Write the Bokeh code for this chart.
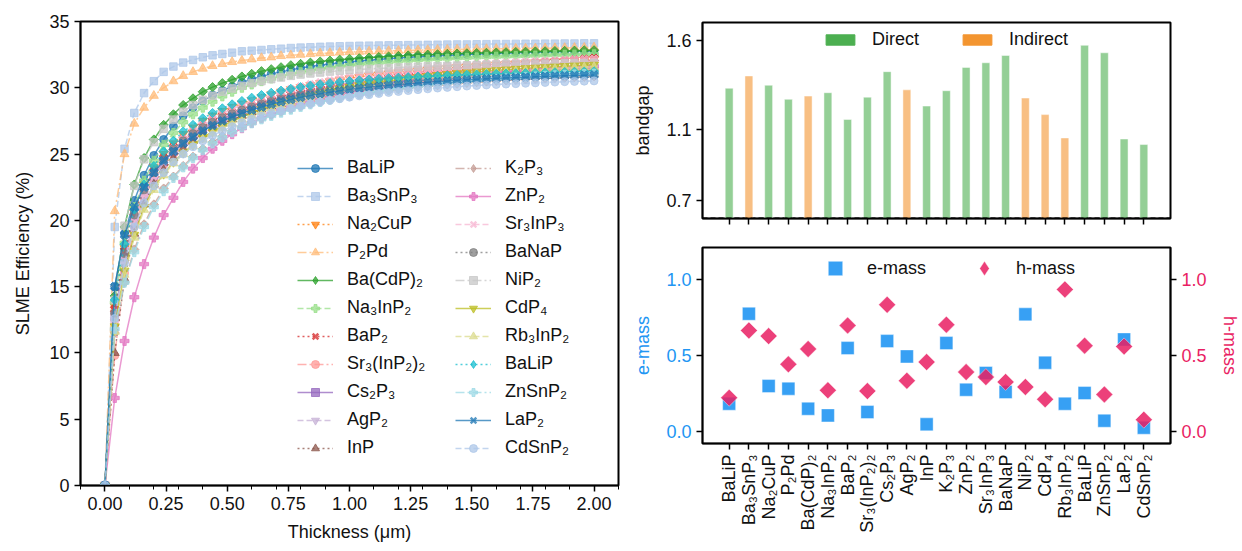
import math
from bokeh.plotting import figure
from bokeh.models import (Range1d, FixedTicker, Legend, LegendItem, LinearAxis,
                          Span, PrintfTickFormatter, ColumnDataSource)
from bokeh.layouts import row, column
from bokeh.embed import file_html
from bokeh.resources import INLINE

# ---------------- data ----------------
thickness = [0.0, 0.04, 0.08, 0.12, 0.16, 0.2, 0.24, 0.28, 0.32, 0.36, 0.4,
             0.44, 0.48, 0.52, 0.56, 0.6, 0.64, 0.68, 0.72, 0.76, 0.8, 0.84, 0.88, 0.92, 0.96, 1.0,
             1.04, 1.08, 1.12, 1.16, 1.2, 1.24, 1.28, 1.32, 1.36, 1.4, 1.44, 1.48, 1.52, 1.56, 1.6,
             1.64, 1.68, 1.72, 1.76, 1.8, 1.84, 1.88, 1.92, 1.96, 2.0]

materials = ["BaLiP", "Ba₃SnP₃", "Na₂CuP", "P₂Pd", "Ba(CdP)₂", "Na₃InP₂", "BaP₂",
             "Sr₃(InP₂)₂", "Cs₂P₃", "AgP₂", "InP", "K₂P₃", "ZnP₂", "Sr₃InP₃", "BaNaP",
             "NiP₂", "CdP₄", "Rb₃InP₂", "BaLiP", "ZnSnP₂", "LaP₂", "CdSnP₂"]

slme_BaLiP = [0, 15.0, 19.0, 21.5, 23.4, 24.9, 26.1, 27.1, 27.9, 28.5, 29.0,
              29.45, 29.8, 30.1, 30.4, 30.65, 30.85, 31.05, 31.2, 31.35, 31.5, 31.6, 31.7, 31.8, 31.88, 31.95,
              32.02, 32.08, 32.14, 32.2, 32.25, 32.3, 32.34, 32.38, 32.42, 32.45, 32.48, 32.51, 32.54, 32.57, 32.6,
              32.62, 32.64, 32.66, 32.68, 32.7, 32.72, 32.74, 32.75, 32.77, 32.78]
slme_Ba3SnP3 = [0, 19.5, 25.4, 28.1, 29.6, 30.5, 31.2, 31.6, 31.9, 32.1, 32.3,
                32.45, 32.55, 32.65, 32.75, 32.8, 32.85, 32.9, 32.95, 33.0, 33.03, 33.06, 33.09, 33.11, 33.13, 33.15,
                33.17, 33.18, 33.19, 33.2, 33.21, 33.22, 33.23, 33.24, 33.25, 33.26, 33.27, 33.27, 33.28, 33.29, 33.3,
                33.3, 33.31, 33.32, 33.32, 33.33, 33.33, 33.34, 33.34, 33.35, 33.35]
slme_Na2CuP = [0, 13.5, 17.9, 20.8, 22.7, 24.0, 25.0, 25.8, 26.5, 27.0, 27.5,
               27.9, 28.25, 28.55, 28.8, 29.05, 29.3, 29.5, 29.7, 29.88, 30.05, 30.2, 30.35, 30.48, 30.6, 30.72,
               30.82, 30.92, 31.0, 31.08, 31.16, 31.23, 31.3, 31.37, 31.43, 31.49, 31.55, 31.6, 31.65, 31.7, 31.75,
               31.8, 31.84, 31.88, 31.92, 31.96, 32.0, 32.04, 32.08, 32.11, 32.14]
slme_P2Pd = [0, 20.7, 25.0, 27.3, 28.5, 29.4, 30.0, 30.5, 30.9, 31.2, 31.45,
             31.65, 31.8, 31.95, 32.05, 32.15, 32.25, 32.3, 32.4, 32.45, 32.5, 32.55, 32.6, 32.63, 32.66, 32.7,
             32.72, 32.74, 32.76, 32.78, 32.8, 32.82, 32.84, 32.85, 32.87, 32.88, 32.9, 32.91, 32.92, 32.93, 32.94,
             32.95, 32.96, 32.97, 32.98, 32.99, 33.0, 33.01, 33.02, 33.03, 33.05]
slme_BaCdP2 = [0, 14.3, 19.5, 22.7, 24.7, 26.1, 27.2, 28.0, 28.7, 29.2, 29.7,
               30.05, 30.35, 30.6, 30.85, 31.05, 31.25, 31.4, 31.55, 31.7, 31.8, 31.9, 31.98, 32.05, 32.12, 32.18,
               32.23, 32.28, 32.32, 32.36, 32.4, 32.44, 32.47, 32.5, 32.53, 32.56, 32.58, 32.6, 32.62, 32.64, 32.66,
               32.68, 32.7, 32.72, 32.74, 32.75, 32.77, 32.78, 32.8, 32.82, 32.83]
slme_Na3InP2 = [0, 13.8, 18.3, 21.0, 23.0, 24.5, 25.7, 26.6, 27.4, 28.0, 28.5,
                28.95, 29.35, 29.7, 30.0, 30.25, 30.5, 30.7, 30.88, 31.04, 31.18, 31.3, 31.42, 31.52, 31.61, 31.7,
                31.77, 31.84, 31.9, 31.96, 32.01, 32.06, 32.1, 32.14, 32.18, 32.21, 32.24, 32.27, 32.3, 32.33, 32.35,
                32.37, 32.39, 32.41, 32.43, 32.45, 32.47, 32.49, 32.5, 32.52, 32.53]
slme_BaP2 = [0, 13.3, 17.7, 20.6, 22.5, 23.7, 24.7, 25.5, 26.1, 26.6, 27.1,
             27.5, 27.85, 28.15, 28.4, 28.65, 28.9, 29.1, 29.3, 29.5, 29.65, 29.8, 29.95, 30.1, 30.2, 30.35,
             30.45, 30.55, 30.65, 30.75, 30.85, 30.95, 31.05, 31.12, 31.2, 31.28, 31.35, 31.42, 31.5, 31.56, 31.62,
             31.68, 31.74, 31.8, 31.86, 31.92, 31.98, 32.04, 32.1, 32.16, 32.22]
slme_Sr3InP22 = [0, 9.8, 16.0, 19.5, 21.7, 23.1, 24.2, 25.0, 25.7, 26.3, 26.8,
                 27.25, 27.6, 27.95, 28.25, 28.5, 28.75, 28.97, 29.18, 29.37, 29.55, 29.72, 29.87, 30.02, 30.15, 30.28,
                 30.4, 30.51, 30.61, 30.71, 30.8, 30.89, 30.97, 31.05, 31.12, 31.19, 31.26, 31.32, 31.38, 31.44, 31.5,
                 31.55, 31.6, 31.65, 31.7, 31.74, 31.78, 31.82, 31.86, 31.9, 31.94]
slme_Cs2P3 = [0, 12.8, 17.2, 20.1, 22.0, 23.4, 24.4, 25.2, 25.9, 26.4, 26.9,
              27.3, 27.65, 27.95, 28.22, 28.46, 28.68, 28.88, 29.07, 29.24, 29.4, 29.55, 29.69, 29.82, 29.94, 30.05,
              30.15, 30.25, 30.34, 30.42, 30.5, 30.57, 30.64, 30.71, 30.77, 30.83, 30.89, 30.94, 30.99, 31.04, 31.09,
              31.13, 31.17, 31.21, 31.25, 31.29, 31.33, 31.36, 31.39, 31.42, 31.45]
slme_AgP2 = [0, 12.3, 16.8, 19.8, 21.8, 23.2, 24.3, 25.1, 25.8, 26.3, 26.8,
             27.2, 27.55, 27.85, 28.12, 28.36, 28.58, 28.78, 28.97, 29.14, 29.3, 29.45, 29.59, 29.72, 29.84, 29.95,
             30.05, 30.15, 30.24, 30.32, 30.4, 30.47, 30.54, 30.61, 30.67, 30.73, 30.79, 30.84, 30.89, 30.94, 30.99,
             31.03, 31.07, 31.11, 31.15, 31.19, 31.23, 31.26, 31.29, 31.32, 31.35]
slme_InP = [0, 10.0, 15.6, 19.0, 21.2, 22.7, 23.8, 24.7, 25.4, 26.0, 26.5,
            26.95, 27.3, 27.62, 27.9, 28.15, 28.38, 28.59, 28.78, 28.96, 29.12, 29.27, 29.41, 29.54, 29.66, 29.77,
            29.87, 29.97, 30.06, 30.14, 30.22, 30.29, 30.36, 30.43, 30.49, 30.55, 30.61, 30.66, 30.71, 30.76, 30.81,
            30.85, 30.89, 30.93, 30.97, 31.01, 31.04, 31.07, 31.1, 31.13, 31.16]
slme_K2P3 = [0, 11.5, 15.3, 17.8, 19.7, 21.2, 22.4, 23.3, 24.1, 24.8, 25.4,
             25.9, 26.35, 26.75, 27.1, 27.4, 27.7, 27.95, 28.18, 28.4, 28.6, 28.78, 28.95, 29.1, 29.24, 29.37,
             29.49, 29.6, 29.7, 29.8, 29.89, 29.97, 30.05, 30.12, 30.19, 30.25, 30.31, 30.37, 30.42, 30.47, 30.52,
             30.56, 30.6, 30.64, 30.68, 30.71, 30.74, 30.77, 30.8, 30.83, 30.86]
slme_ZnP2 = [0, 6.6, 10.9, 14.2, 16.7, 18.7, 20.4, 21.7, 22.9, 23.9, 24.7,
             25.4, 26.0, 26.5, 26.95, 27.35, 27.7, 28.0, 28.3, 28.55, 28.8, 29.0, 29.2, 29.38, 29.55, 29.7,
             29.84, 29.97, 30.09, 30.2, 30.31, 30.41, 30.5, 30.59, 30.68, 30.76, 30.84, 30.91, 30.98, 31.05, 31.11,
             31.17, 31.23, 31.29, 31.34, 31.39, 31.44, 31.49, 31.54, 31.58, 31.62]
slme_Sr3InP3 = [0, 12.5, 17.0, 20.0, 22.0, 23.4, 24.5, 25.4, 26.1, 26.7, 27.2,
                27.65, 28.05, 28.4, 28.7, 28.98, 29.24, 29.47, 29.68, 29.88, 30.06, 30.23, 30.38, 30.52, 30.65, 30.77,
                30.88, 30.98, 31.07, 31.16, 31.24, 31.32, 31.39, 31.46, 31.52, 31.58, 31.63, 31.68, 31.73, 31.78, 31.82,
                31.86, 31.9, 31.94, 31.97, 32.0, 32.03, 32.06, 32.09, 32.12, 32.15]
slme_BaNaP = [0, 13.0, 17.5, 20.4, 22.3, 23.6, 24.6, 25.4, 26.0, 26.55, 27.0,
              27.4, 27.75, 28.05, 28.32, 28.56, 28.78, 28.98, 29.16, 29.33, 29.48, 29.62, 29.75, 29.87, 29.98, 30.08,
              30.18, 30.27, 30.35, 30.43, 30.5, 30.57, 30.63, 30.69, 30.75, 30.8, 30.85, 30.9, 30.95, 30.99, 31.03,
              31.07, 31.11, 31.14, 31.17, 31.2, 31.23, 31.26, 31.29, 31.31, 31.33]
slme_NiP2 = [0, 14.0, 19.6, 22.6, 24.6, 25.9, 26.9, 27.6, 28.2, 28.7, 29.1,
             29.4, 29.7, 29.95, 30.15, 30.35, 30.5, 30.65, 30.78, 30.9, 31.0, 31.08, 31.15, 31.22, 31.28, 31.33,
             31.38, 31.42, 31.46, 31.5, 31.53, 31.56, 31.59, 31.62, 31.64, 31.66, 31.68, 31.7, 31.72, 31.74, 31.75,
             31.77, 31.78, 31.8, 31.81, 31.82, 31.84, 31.85, 31.86, 31.87, 31.88]
slme_CdP4 = [0, 12.0, 16.2, 18.9, 21.0, 22.5, 23.5, 24.4, 25.1, 25.7, 26.25,
             26.7, 27.1, 27.47, 27.8, 28.1, 28.37, 28.62, 28.85, 29.06, 29.26, 29.44, 29.61, 29.77, 29.92, 30.05,
             30.18, 30.3, 30.41, 30.51, 30.61, 30.7, 30.79, 30.87, 30.95, 31.02, 31.09, 31.15, 31.21, 31.27, 31.32,
             31.37, 31.42, 31.47, 31.51, 31.55, 31.59, 31.63, 31.67, 31.7, 31.73]
slme_Rb3InP2 = [0, 11.6, 15.9, 18.7, 20.8, 22.3, 23.4, 24.3, 25.0, 25.6, 26.1,
                26.55, 26.95, 27.3, 27.62, 27.92, 28.19, 28.44, 28.67, 28.88, 29.08, 29.26, 29.43, 29.59, 29.74, 29.88,
                30.01, 30.13, 30.24, 30.35, 30.45, 30.54, 30.63, 30.71, 30.79, 30.86, 30.93, 30.99, 31.05, 31.11, 31.16,
                31.21, 31.26, 31.31, 31.35, 31.39, 31.43, 31.47, 31.51, 31.54, 31.57]
slme_BaLiP_b = [0, 14.0, 18.2, 20.8, 22.7, 24.1, 25.2, 26.0, 26.7, 27.2, 27.7,
                28.1, 28.45, 28.75, 29.0, 29.25, 29.45, 29.62, 29.78, 29.92, 30.05, 30.16, 30.26, 30.35, 30.43, 30.5,
                30.56, 30.62, 30.67, 30.72, 30.76, 30.8, 30.84, 30.87, 30.9, 30.93, 30.96, 30.98, 31.0, 31.03, 31.05,
                31.07, 31.09, 31.11, 31.13, 31.15, 31.17, 31.19, 31.21, 31.22, 31.24]
slme_ZnSnP2 = [0, 11.8, 15.3, 17.6, 19.5, 21.0, 22.2, 23.2, 24.0, 24.7, 25.3,
               25.8, 26.25, 26.65, 27.0, 27.32, 27.62, 27.88, 28.12, 28.35, 28.56, 28.75, 28.93, 29.1, 29.25, 29.39,
               29.52, 29.64, 29.75, 29.86, 29.96, 30.05, 30.14, 30.22, 30.3, 30.37, 30.44, 30.5, 30.56, 30.62, 30.67,
               30.72, 30.77, 30.82, 30.86, 30.9, 30.94, 30.98, 31.01, 31.04, 31.07]
slme_LaP2 = [0, 15.0, 18.9, 21.0, 22.5, 23.6, 24.5, 25.2, 25.8, 26.3, 26.75,
             27.15, 27.5, 27.8, 28.07, 28.32, 28.55, 28.76, 28.95, 29.12, 29.28, 29.42, 29.55, 29.67, 29.78, 29.88,
             29.97, 30.05, 30.12, 30.19, 30.25, 30.31, 30.37, 30.42, 30.47, 30.52, 30.56, 30.6, 30.64, 30.68, 30.71,
             30.74, 30.77, 30.8, 30.83, 30.86, 30.88, 30.9, 30.92, 30.94, 30.96]
slme_CdSnP2 = [0, 12.6, 16.8, 19.5, 21.3, 22.6, 23.6, 24.4, 25.0, 25.55, 26.0,
               26.4, 26.75, 27.07, 27.36, 27.62, 27.86, 28.08, 28.28, 28.46, 28.63, 28.79, 28.93, 29.06, 29.18, 29.29,
               29.39, 29.48, 29.57, 29.65, 29.72, 29.79, 29.86, 29.92, 29.98, 30.03, 30.08, 30.13, 30.17, 30.21, 30.25,
               30.28, 30.31, 30.34, 30.37, 30.4, 30.43, 30.46, 30.48, 30.5, 30.52]

slme_series = [slme_BaLiP, slme_Ba3SnP3, slme_Na2CuP, slme_P2Pd, slme_BaCdP2, slme_Na3InP2,
               slme_BaP2, slme_Sr3InP22, slme_Cs2P3, slme_AgP2, slme_InP, slme_K2P3, slme_ZnP2,
               slme_Sr3InP3, slme_BaNaP, slme_NiP2, slme_CdP4, slme_Rb3InP2, slme_BaLiP_b,
               slme_ZnSnP2, slme_LaP2, slme_CdSnP2]
for k, s in enumerate(slme_series):
    if len(s) != len(thickness):
        raise ValueError("series %d has %d values" % (k, len(s)))

bandgap = [1.331, 1.400, 1.348, 1.269, 1.287, 1.306, 1.156, 1.281, 1.424, 1.322, 1.231,
           1.317, 1.448, 1.474, 1.515, 1.276, 1.183, 1.052, 1.572, 1.530, 1.046, 1.015]
gap_type = ["Direct", "Indirect", "Direct", "Direct", "Indirect", "Direct", "Direct", "Direct",
            "Direct", "Indirect", "Direct", "Direct", "Direct", "Direct", "Direct", "Indirect",
            "Indirect", "Indirect", "Direct", "Direct", "Direct", "Direct"]
emass = [0.182, 0.774, 0.298, 0.281, 0.149, 0.105, 0.548, 0.127, 0.594, 0.493, 0.046,
         0.581, 0.274, 0.384, 0.259, 0.770, 0.452, 0.182, 0.252, 0.070, 0.605, 0.024]
hmass = [0.221, 0.664, 0.627, 0.441, 0.542, 0.270, 0.697, 0.265, 0.833, 0.333, 0.456,
         0.702, 0.390, 0.357, 0.325, 0.292, 0.211, 0.934, 0.564, 0.243, 0.559, 0.077]

# ---------------- styling ----------------
FONT = "Liberation Sans"
FS = "18px"
TXT = "#111111"
nan = float("nan")
palette = ["#1f77b4", "#aec7e8", "#ff7f0e", "#ffbb78", "#2ca02c", "#98df8a", "#d62728",
           "#ff9896", "#9467bd", "#c5b0d5", "#8c564b", "#c49c94", "#e377c2", "#f7b6d2",
           "#7f7f7f", "#c7c7c7", "#bcbd22", "#dbdb8d", "#17becf", "#9edae5"]
# (marker, angle, size, legend-key marker or None)
markers = [("circle", 0.0, 8, None), ("square", 0.0, 7.5, None),
           ("inverted_triangle", 0.0, 9, None), ("triangle", 0.0, 9, None),
           ("square", math.pi / 4, 6.5, "diamond"), ("plus", 0.0, 9, None),
           ("plus", math.pi / 4, 9, "x")]
dashes = ["solid", "6 3", "2 3", "9 3 2 3"]


def style_axis(ax):
    ax.axis_line_width = 1.5
    ax.axis_line_color = "black"
    ax.major_tick_line_width = 1.5
    ax.major_tick_out = 6
    ax.major_tick_in = 0
    ax.minor_tick_line_width = 1
    ax.minor_tick_out = 4
    ax.minor_tick_in = 0
    ax.major_label_text_font = FONT
    ax.major_label_text_font_size = FS
    ax.major_label_text_color = TXT
    ax.axis_label_text_font = FONT
    ax.axis_label_text_font_size = FS
    ax.axis_label_text_font_style = "normal"
    ax.axis_label_text_color = TXT
    ax.major_label_standoff = 5


def style_fig(p):
    p.grid.visible = False
    p.outline_line_color = "black"
    p.outline_line_width = 2
    p.outline_line_alpha = 1
    p.background_fill_color = "white"
    p.border_fill_color = "white"


def style_legend(lg, gh, spacing):
    lg.label_text_font = FONT
    lg.label_text_font_size = FS
    lg.label_text_color = TXT
    lg.glyph_width = 36
    lg.glyph_height = gh
    lg.label_height = 20
    lg.label_standoff = 14
    lg.spacing = spacing
    lg.padding = 0
    lg.margin = 0
    lg.border_line_alpha = 0
    lg.background_fill_alpha = 0


# ---------------- left: SLME ----------------
p1 = figure(width=630, height=551, x_range=Range1d(-0.1, 2.1), y_range=Range1d(0, 35),
            output_backend="svg", toolbar_location=None,
            min_border_left=80, min_border_right=12, min_border_top=21, min_border_bottom=66)
style_fig(p1)
for ax in (p1.xaxis[0], p1.yaxis[0]):
    style_axis(ax)
p1.xaxis.ticker = FixedTicker(ticks=[0, 0.25, 0.5, 0.75, 1.0, 1.25, 1.5, 1.75, 2.0],
                              minor_ticks=[-0.1, 0.0, 0.1, 0.2, 0.3, 0.4, 0.5, 0.6, 0.7, 0.8, 0.9, 1.0,
                                           1.1, 1.2, 1.3, 1.4, 1.5, 1.6, 1.7, 1.8, 1.9, 2.0, 2.1])
p1.xaxis.formatter = PrintfTickFormatter(format="%.2f")
p1.yaxis.ticker = FixedTicker(ticks=[0, 5, 10, 15, 20, 25, 30, 35])
p1.xaxis.axis_label = "Thickness (μm)"
p1.yaxis.axis_label = "SLME Efficiency (%)"
p1.xaxis.axis_label_standoff = 9
p1.yaxis.axis_label_standoff = 13

items = []
for k, (name, vals) in enumerate(zip(materials, slme_series)):
    col = palette[k % len(palette)]
    mk, ang, sz, key_mk = markers[k % len(markers)]
    dash = dashes[k % len(dashes)]
    lr = p1.line(thickness, vals, line_color=col, line_width=1.5, line_alpha=0.75, line_dash=dash)
    sr = p1.scatter(thickness, vals, marker=mk, angle=ang, size=sz, fill_color=col,
                    fill_alpha=0.75, line_color=col, line_alpha=0.75, line_width=1)
    if key_mk is None:
        key = sr
    else:
        # legend keys ignore marker angle: use an unrotated look-alike for the key only
        key = p1.scatter([nan], [nan], marker=key_mk, size=sz, fill_color=col, fill_alpha=0.75,
                         line_color=col, line_alpha=0.75,
                         line_width=(2.5 if key_mk == "x" else 1))
    items.append(LegendItem(label=name, renderers=[lr, key]))

leg_a = Legend(items=items[:11], location=(217, 27), orientation="vertical")
style_legend(leg_a, 20, 7)
leg_b = Legend(items=items[11:], location=(375, 27), orientation="vertical")
style_legend(leg_b, 20, 7)
p1.add_layout(leg_a)
p1.add_layout(leg_b)

# ---------------- top right: bandgap ----------------
idx = list(range(len(materials)))
xr = Range1d(-1.35, 22.35)
p2 = figure(width=612, height=232, x_range=xr, y_range=Range1d(0.6, 1.7),
            output_backend="svg", toolbar_location=None,
            min_border_left=67, min_border_right=72, min_border_top=22, min_border_bottom=14)
style_fig(p2)
for ax in (p2.xaxis[0], p2.yaxis[0]):
    style_axis(ax)
GREEN = "#4CAF50"
ORANGE = "#F39530"
d_src = ColumnDataSource(dict(x=[i for i in idx if gap_type[i] == "Direct"],
                              top=[bandgap[i] for i in idx if gap_type[i] == "Direct"]))
i_src = ColumnDataSource(dict(x=[i for i in idx if gap_type[i] == "Indirect"],
                              top=[bandgap[i] for i in idx if gap_type[i] == "Indirect"]))
p2.vbar(x="x", top="top", bottom=0.6, width=0.4, source=d_src, fill_color=GREEN,
        fill_alpha=0.6, line_color="white", line_alpha=0.6, line_width=0.8)
p2.vbar(x="x", top="top", bottom=0.6, width=0.4, source=i_src, fill_color=ORANGE,
        fill_alpha=0.6, line_color="white", line_alpha=0.6, line_width=0.8)
# legend-only renderers (no visible data) so the key shows the full colour
lg_d = p2.vbar(x=[nan], top=[nan], bottom=0.6, width=0.4, fill_color=GREEN, line_color=GREEN)
lg_i = p2.vbar(x=[nan], top=[nan], bottom=0.6, width=0.4, fill_color=ORANGE, line_color=ORANGE)
p2.add_layout(Span(location=0.6, dimension="width", line_color="black", line_width=2,
                   line_dash="5 3"))
p2.xaxis.ticker = FixedTicker(ticks=idx)
p2.xaxis.major_label_overrides = {i: "" for i in idx}
p2.xaxis.major_label_text_font_size = "1px"
p2.yaxis.ticker = FixedTicker(ticks=[0.7, 1.1, 1.6])
p2.yaxis.axis_label = "bandgap"
p2.yaxis.axis_label_standoff = 10
leg2 = Legend(items=[LegendItem(label="Direct", renderers=[lg_d]),
                     LegendItem(label="Indirect", renderers=[lg_i])],
              location=(120, 168), orientation="horizontal")
style_legend(leg2, 13, 40)
p2.add_layout(leg2)

# ---------------- bottom right: masses ----------------
BLUE = "#2196F3"
PINK = "#E91E63"
p3 = figure(width=612, height=319, x_range=xr, y_range=Range1d(-0.08, 1.21),
            output_backend="svg", toolbar_location=None,
            min_border_left=67, min_border_right=72, min_border_top=15, min_border_bottom=108)
style_fig(p3)
p3.extra_y_ranges = {"h": Range1d(-0.08, 1.21)}
raxis = LinearAxis(y_range_name="h")
p3.add_layout(raxis, "right")
for ax in (p3.xaxis[0], p3.yaxis[0], raxis):
    style_axis(ax)
er = p3.scatter(idx, emass, marker="square", size=13, fill_color=BLUE, fill_alpha=0.9,
                line_color="white", line_alpha=0.5, line_width=0.8)
hr = p3.scatter(idx, hmass, marker="square", angle=math.pi / 4, size=12, fill_color=PINK,
                fill_alpha=0.85, line_color="white", line_alpha=0.5, line_width=0.8,
                y_range_name="h")
# legend-only key with a diamond outline (legend keys ignore marker angle)
hr_key = p3.scatter([nan], [nan], marker="diamond", size=12, fill_color=PINK,
                    fill_alpha=0.85, line_color="white", line_alpha=0.5, line_width=0.8,
                    y_range_name="h")
p3.xaxis.ticker = FixedTicker(ticks=idx)
p3.xaxis.major_label_overrides = {i: materials[i] for i in idx}
p3.xaxis.major_label_orientation = math.pi / 2
for ax in (p3.yaxis[0], raxis):
    ax.ticker = FixedTicker(ticks=[0.0, 0.5, 1.0])
    ax.formatter = PrintfTickFormatter(format="%.1f")
    ax.axis_label_standoff = 10
p3.yaxis[0].axis_label = "e-mass"
p3.yaxis[0].major_label_text_color = BLUE
p3.yaxis[0].axis_label_text_color = BLUE
raxis.axis_label = "h-mass"
raxis.major_label_text_color = PINK
raxis.axis_label_text_color = PINK
leg3 = Legend(items=[LegendItem(label="e-mass", renderers=[er]),
                     LegendItem(label="h-mass", renderers=[hr_key])],
              location=(115, 157), orientation="horizontal")
style_legend(leg3, 36, 40)
p3.add_layout(leg3)

layout = row(p1, column(p2, p3))
open("out.html", "w").write(file_html(layout, INLINE))
